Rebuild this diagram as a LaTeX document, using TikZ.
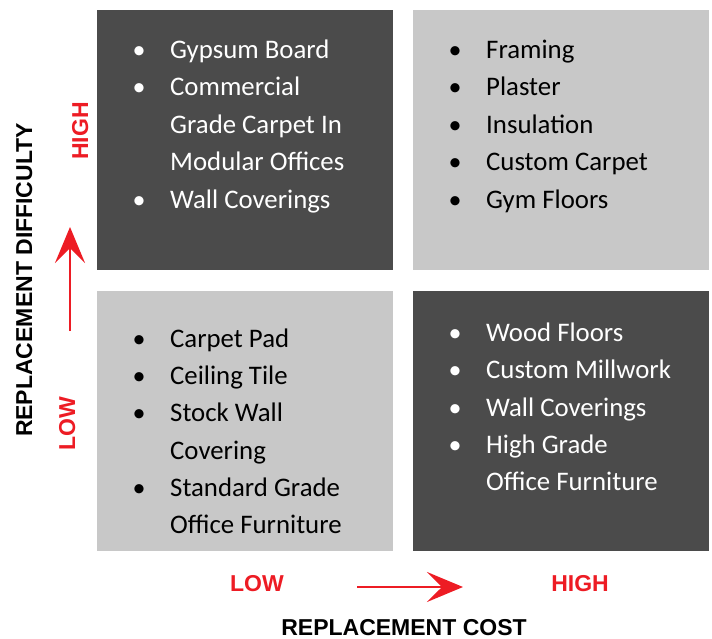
\documentclass[tikz,border=0pt]{standalone}
\usepackage{fontspec}
\setmainfont{Carlito}
\newfontfamily\axisfont{Liberation Sans}
\usetikzlibrary{arrows.meta}

\definecolor{darkbox}{HTML}{4B4B4B}
\definecolor{lightbox}{HTML}{C8C8C8}
\definecolor{axisred}{HTML}{ED1C24}

\begin{document}
\begin{tikzpicture}[x=1pt,y=-1pt,
	itemtext/.style={anchor=base west, inner sep=0pt, font=\fontsize{26.8}{27}\selectfont},
	itemdot/.style={anchor=base, inner sep=0pt, font=\fontsize{26}{27}\selectfont},
	axislabel/.style={anchor=base, inner sep=0pt, text=axisred, font=\axisfont\fontsize{23}{23}\selectfont\bfseries},
	axistitle/.style={anchor=base, inner sep=0pt, font=\axisfont\fontsize{23}{23}\selectfont\bfseries},
	redarrow/.style={axisred, line width=2.5pt, -{Stealth[length=36pt,width=30pt,inset=15pt]}}
	]
\useasboundingbox (0,0) rectangle (712,639);

% the four quadrants
\fill[darkbox] (97,10) rectangle (393,270);
\fill[lightbox] (413,10) rectangle (709,270);
\fill[lightbox] (97,291) rectangle (393,551);
\fill[darkbox] (413,291) rectangle (709,551);

% high difficulty, low cost
\begin{scope}[white]
	\node[itemdot] (d1) at (139,59) {•};
	\node[itemtext] (hl1) at (170,59) {Gypsum Board};
	\node[itemdot] (d2) at (139,96) {•};
	\node[itemtext] (hl2) at (170,96) {Commercial};
	\node[itemtext] (hl3) at (170,133.5) {Grade Carpet In};
	\node[itemtext] (hl4) at (170,171) {Modular Offices};
	\node[itemdot] (d3) at (139,208) {•};
	\node[itemtext] (hl5) at (170,208) {Wall Coverings};
\end{scope}

% high difficulty, high cost
\begin{scope}[black]
	\node[itemdot] (d4) at (455,59) {•};
	\node[itemtext] (hh1) at (486,59) {Framing};
	\node[itemdot] (d5) at (455,96) {•};
	\node[itemtext] (hh2) at (486,96) {Plaster};
	\node[itemdot] (d6) at (455,133.5) {•};
	\node[itemtext] (hh3) at (486,133.5) {Insulation};
	\node[itemdot] (d7) at (455,171) {•};
	\node[itemtext] (hh4) at (486,171) {Custom Carpet};
	\node[itemdot] (d8) at (455,208) {•};
	\node[itemtext] (hh5) at (486,208) {Gym Floors};
\end{scope}

% low difficulty, low cost
\begin{scope}[black]
	\node[itemdot] (d9) at (139,347) {•};
	\node[itemtext] (ll1) at (170,347) {Carpet Pad};
	\node[itemdot] (d10) at (139,384.5) {•};
	\node[itemtext] (ll2) at (170,384.5) {Ceiling Tile};
	\node[itemdot] (d11) at (139,421.5) {•};
	\node[itemtext] (ll3) at (170,421.5) {Stock Wall};
	\node[itemtext] (ll4) at (170,459) {Covering};
	\node[itemdot] (d12) at (139,496) {•};
	\node[itemtext] (ll5) at (170,496) {Standard Grade};
	\node[itemtext] (ll6) at (170,533) {Office Furniture};
\end{scope}

% low difficulty, high cost
\begin{scope}[white]
	\node[itemdot] (d13) at (455,341.5) {•};
	\node[itemtext] (lh1) at (486,341.5) {Wood Floors};
	\node[itemdot] (d14) at (455,378.5) {•};
	\node[itemtext] (lh2) at (486,378.5) {Custom Millwork};
	\node[itemdot] (d15) at (455,416) {•};
	\node[itemtext] (lh3) at (486,416) {Wall Coverings};
	\node[itemdot] (d16) at (455,453) {•};
	\node[itemtext] (lh4) at (486,453) {High Grade};
	\node[itemtext] (lh5) at (486,490) {Office Furniture};
\end{scope}

% vertical axis
\node[axistitle, rotate=90] (ytitle) at (32,280) {REPLACEMENT DIFFICULTY};
\node[axislabel, rotate=90] (yhigh) at (88,131) {HIGH};
\node[axislabel, rotate=90] (ylow) at (75,424) {LOW};
\coordinate (ystart) at (70,331);
\coordinate (yend) at (70,227);
\draw[redarrow] (ystart) -- (yend);

% horizontal axis
\node[axistitle] (xtitle) at (404,635) {REPLACEMENT COST};
\node[axislabel] (xlow) at (257,591) {LOW};
\node[axislabel] (xhigh) at (580,591) {HIGH};
\coordinate (xstart) at (357,587);
\coordinate (xend) at (463,587);
\draw[redarrow] (xstart) -- (xend);
\end{tikzpicture}
\end{document}
